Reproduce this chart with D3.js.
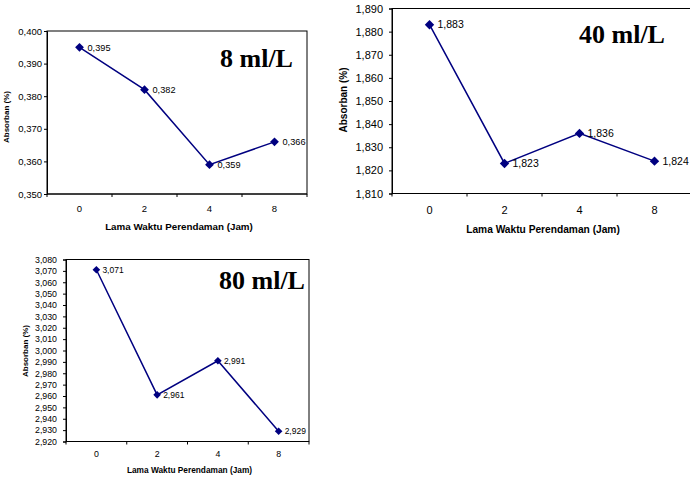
<!DOCTYPE html>
<html>
<head>
<meta charset="utf-8">
<script src="https://cdn.jsdelivr.net/npm/d3@7"></script>
<style>
  body { margin: 0; background: #fff; }
  svg { display: block; }
  text { font-family: Arial, "Liberation Sans", sans-serif; fill: #000; }
  text.big { font-family: "Liberation Serif", "Times New Roman", serif; }
</style>
</head>
<body>
<div id="chart"></div>
<script>
// data
const hours = ["0", "2", "4", "8"];
const absorb8 = [0.395, 0.382, 0.359, 0.366];
const absorb40 = [1.883, 1.823, 1.836, 1.824];
const absorb80 = [3.071, 2.961, 2.991, 2.929];
const titles = ["8 ml/L", "40 ml/L", "80 ml/L"];
const yDomains = [[0.35, 0.40], [1.81, 1.89], [2.92, 3.08]];
const xTitle = "Lama Waktu Perendaman (Jam)";
const yTitle = "Absorban (%)";

const width = 690, height = 477;

const svg = d3.select("#chart")
  .append("svg")
  .attr("width", width)
  .attr("height", height);

// comma as decimal separator
const fmt = v => d3.format(".3f")(v).replace(".", ",");

// each panel: plot box + text placement
const panels = [
  { values: absorb8, dom: yDomains[0], title: titles[0],
    left: 47, right: 307, top: 31, bottom: 194,
    tickFs: 9.5, labFs: 9.2, xtFs: 9.8, ytFs: 8, tickGap: 4,
    xTickY: 212, xTitleY: 230, yTitleX: 9, yTitleY: 117,
    titleX: 220, titleY: 67, mark: 4.4, labDx: 8 },
  { values: absorb40, dom: yDomains[1], title: titles[1],
    left: 392, right: 692, top: 8.5, bottom: 193.5,
    tickFs: 11, labFs: 10.5, xtFs: 10.2, ytFs: 10, tickGap: 8,
    xTickY: 214, xTitleY: 233, yTitleX: 347, yTitleY: 100,
    titleX: 579, titleY: 43, mark: 4.7, labDx: 8 },
  { values: absorb80, dom: yDomains[2], title: titles[2],
    left: 66, right: 309, top: 259.5, bottom: 441.5,
    tickFs: 8.8, labFs: 8.5, xtFs: 8.3, ytFs: 8, tickGap: 8,
    xTickY: 457, xTitleY: 473, yTitleX: 28, yTitleY: 351,
    titleX: 219, titleY: 289, mark: 3.8, labDx: 6 }
];

panels.forEach(p => {
  const g = svg.append("g");

  const x = d3.scaleBand()
    .domain(hours)
    .range([p.left, p.right]);

  const y = d3.scaleLinear()
    .domain(p.dom)
    .range([p.bottom, p.top]);

  const yTicks = d3.range(p.dom[0], p.dom[1] + 0.0001, 0.01);

  // plot box
  g.append("rect")
    .attr("x", p.left)
    .attr("y", p.top)
    .attr("width", p.right - p.left)
    .attr("height", p.bottom - p.top)
    .attr("fill", "#fff")
    .attr("stroke", "#000")
    .attr("stroke-width", 1);

  // y axis
  const yAxis = g.append("g")
    .attr("transform", `translate(${p.left},0)`)
    .call(d3.axisLeft(y).tickValues(yTicks).tickFormat(fmt).tickSize(3).tickPadding(p.tickGap - 2));
  yAxis.select(".domain").attr("stroke", "#000");
  yAxis.selectAll("text").attr("font-size", p.tickFs);

  // x axis: ticks on band edges, labels in band centres
  const edges = hours.map(h => x(h)).concat([p.right]);
  g.selectAll(".xtick")
    .data(edges)
    .enter()
    .append("line")
    .attr("x1", d => d).attr("x2", d => d)
    .attr("y1", p.bottom).attr("y2", p.bottom + 3)
    .attr("stroke", "#000");
  g.append("line")
    .attr("x1", p.left).attr("x2", p.right)
    .attr("y1", p.bottom).attr("y2", p.bottom)
    .attr("stroke", "#000").attr("stroke-width", 1.2);

  g.selectAll(".xlab")
    .data(hours)
    .enter()
    .append("text")
    .attr("x", d => x(d) + x.bandwidth() / 2)
    .attr("y", p.xTickY)
    .attr("text-anchor", "middle")
    .attr("font-size", p.tickFs)
    .text(d => d);

  // axis titles
  g.append("text")
    .attr("x", (p.left + Math.min(p.right, width)) / 2 + 2)
    .attr("y", p.xTitleY)
    .attr("text-anchor", "middle")
    .attr("font-weight", "bold")
    .attr("font-size", p.xtFs)
    .text(xTitle);

  g.append("text")
    .attr("transform", `translate(${p.yTitleX},${p.yTitleY}) rotate(-90)`)
    .attr("text-anchor", "middle")
    .attr("font-weight", "bold")
    .attr("font-size", p.ytFs)
    .text(yTitle);

  // big concentration title
  g.append("text")
    .attr("class", "big")
    .attr("x", p.titleX)
    .attr("y", p.titleY)
    .attr("font-weight", "bold")
    .attr("font-size", 26)
    .text(p.title);

  // line + markers
  const pts = hours.map((h, i) => ({ h: h, v: p.values[i] }));
  const line = d3.line()
    .x(d => x(d.h) + x.bandwidth() / 2)
    .y(d => y(d.v));

  g.append("path")
    .datum(pts)
    .attr("d", line)
    .attr("fill", "none")
    .attr("stroke", "#000080")
    .attr("stroke-width", 1.5);

  g.selectAll(".pt")
    .data(pts)
    .enter()
    .append("path")
    .attr("transform", d => `translate(${x(d.h) + x.bandwidth() / 2},${y(d.v)})`)
    .attr("d", `M0,${-p.mark}L${p.mark},0L0,${p.mark}L${-p.mark},0Z`)
    .attr("fill", "#000080");

  g.selectAll(".lab")
    .data(pts)
    .enter()
    .append("text")
    .attr("x", d => x(d.h) + x.bandwidth() / 2 + p.labDx)
    .attr("y", d => y(d.v))
    .attr("dy", "0.35em")
    .attr("font-size", p.labFs)
    .attr("fill", "#222")
    .text(d => fmt(d.v));
});
</script>
</body>
</html>
